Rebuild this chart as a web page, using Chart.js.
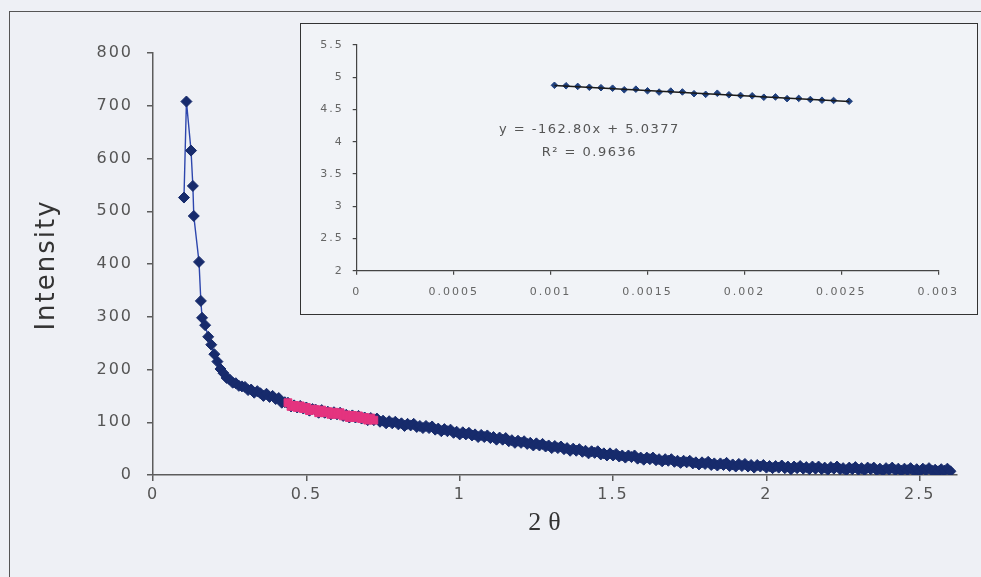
<!DOCTYPE html>
<html>
<head>
<meta charset="utf-8">
<script src="https://cdn.jsdelivr.net/npm/chart.js@4.4.1/dist/chart.umd.min.js"></script>
<style>
  html, body { margin: 0; padding: 0; background: #eef0f5; }
  #wrap { position: relative; width: 981px; height: 577px; overflow: hidden; }
  #frame { position: absolute; left: 9px; top: 11px; width: 1000px; height: 600px;
           border-left: 1.5px solid #555; border-top: 1.5px solid #555; }
  #mainChart { position: absolute; left: 0; top: 0; }
  #insetBox { position: absolute; left: 300px; top: 23px; width: 676px; height: 290px;
              border: 1.5px solid #333; background: #f1f3f7; }
  #insetChart { position: absolute; left: 300px; top: 23px; }
</style>
</head>
<body>
<div id="wrap">
  <div id="frame"></div>
  <canvas id="mainChart" width="981" height="577"></canvas>
  <div id="insetBox"></div>
  <canvas id="insetChart" width="678" height="292"></canvas>
</div>
<script>
// Scattering profile: intensity versus 2θ
const twoTheta = [
  0.101, 0.109, 0.124, 0.130, 0.133, 0.150, 0.156,
  0.16, 0.17, 0.18, 0.19, 0.20, 0.21, 0.22, 0.23, 0.24, 0.25, 0.26, 0.27, 0.28, 0.29,
  0.30, 0.31, 0.32, 0.33, 0.34, 0.35, 0.36, 0.37, 0.38, 0.39,
  0.40, 0.41, 0.42, 0.43, 0.44, 0.45, 0.46, 0.47, 0.48, 0.49,
  0.50, 0.51, 0.52, 0.53, 0.54, 0.55, 0.56, 0.57, 0.58, 0.59,
  0.60, 0.61, 0.62, 0.63, 0.64, 0.65, 0.66, 0.67, 0.68, 0.69,
  0.70, 0.71, 0.72, 0.73, 0.74, 0.75, 0.76, 0.77, 0.78, 0.79,
  0.80, 0.81, 0.82, 0.83, 0.84, 0.85, 0.86, 0.87, 0.88, 0.89,
  0.90, 0.91, 0.92, 0.93, 0.94, 0.95, 0.96, 0.97, 0.98, 0.99,
  1.00, 1.01, 1.02, 1.03, 1.04, 1.05, 1.06, 1.07, 1.08, 1.09,
  1.10, 1.11, 1.12, 1.13, 1.14, 1.15, 1.16, 1.17, 1.18, 1.19,
  1.20, 1.21, 1.22, 1.23, 1.24, 1.25, 1.26, 1.27, 1.28, 1.29,
  1.30, 1.31, 1.32, 1.33, 1.34, 1.35, 1.36, 1.37, 1.38, 1.39,
  1.40, 1.41, 1.42, 1.43, 1.44, 1.45, 1.46, 1.47, 1.48, 1.49,
  1.50, 1.51, 1.52, 1.53, 1.54, 1.55, 1.56, 1.57, 1.58, 1.59,
  1.60, 1.61, 1.62, 1.63, 1.64, 1.65, 1.66, 1.67, 1.68, 1.69,
  1.70, 1.71, 1.72, 1.73, 1.74, 1.75, 1.76, 1.77, 1.78, 1.79,
  1.80, 1.81, 1.82, 1.83, 1.84, 1.85, 1.86, 1.87, 1.88, 1.89,
  1.90, 1.91, 1.92, 1.93, 1.94, 1.95, 1.96, 1.97, 1.98, 1.99,
  2.00, 2.01, 2.02, 2.03, 2.04, 2.05, 2.06, 2.07, 2.08, 2.09,
  2.10, 2.11, 2.12, 2.13, 2.14, 2.15, 2.16, 2.17, 2.18, 2.19,
  2.20, 2.21, 2.22, 2.23, 2.24, 2.25, 2.26, 2.27, 2.28, 2.29,
  2.30, 2.31, 2.32, 2.33, 2.34, 2.35, 2.36, 2.37, 2.38, 2.39,
  2.40, 2.41, 2.42, 2.43, 2.44, 2.45, 2.46, 2.47, 2.48, 2.49,
  2.50, 2.51, 2.52, 2.53, 2.54, 2.55, 2.56, 2.57, 2.58, 2.59, 2.60
];
const intensity = [
  526, 708, 615, 548, 491, 404, 330,
  298, 284, 262, 247, 229, 215, 201, 193, 184, 181, 175, 174, 169, 168,
  167, 161, 162, 156, 159, 155, 150, 154, 148, 150,
  144, 146, 137, 138, 137, 130, 132, 128, 131, 126,
  128, 122, 125, 124, 118, 123, 118, 120, 115, 119,
  115, 118, 112, 114, 109, 113, 109, 112, 107, 109,
  104, 108, 104, 107, 101, 103, 98, 102, 98, 101,
  96, 98, 93, 97, 94, 97, 91, 93, 89, 93,
  89, 92, 86, 88, 83, 87, 83, 86, 80, 82,
  77, 81, 77, 80, 75, 77, 72, 76, 72, 75,
  70, 72, 67, 71, 67, 70, 64, 66, 61, 65,
  61, 64, 59, 61, 56, 60, 56, 59, 54, 56,
  51, 55, 51, 54, 49, 51, 46, 50, 46, 49,
  44, 46, 41, 45, 42, 45, 39, 41, 37, 41,
  37, 40, 35, 37, 33, 37, 34, 37, 31, 33,
  29, 33, 30, 33, 28, 30, 26, 30, 27, 30,
  25, 27, 23, 27, 24, 27, 22, 24, 20, 24,
  21, 25, 19, 22, 18, 22, 19, 23, 17, 20,
  16, 21, 17, 21, 16, 19, 14, 19, 16, 19,
  14, 17, 13, 17, 14, 18, 13, 16, 11, 16,
  13, 17, 12, 15, 11, 16, 12, 16, 11, 14,
  10, 15, 12, 16, 11, 13, 9, 14, 11, 15,
  10, 13, 9, 14, 11, 14, 9, 12, 8, 13,
  10, 14, 9, 12, 8, 12, 9, 13, 8, 11,
  7, 12, 9, 13, 8, 10, 7, 11, 8, 12, 7
];

// Points used for the linear fit (highlighted)
const fitTheta = [0.44, 0.45, 0.46, 0.47, 0.48, 0.49, 0.50, 0.51, 0.52, 0.53, 0.54, 0.55, 0.56, 0.57, 0.58,
                  0.59, 0.60, 0.61, 0.62, 0.63, 0.64, 0.65, 0.66, 0.67, 0.68, 0.69, 0.70, 0.71, 0.72];
const fitIntensity = [137, 130, 132, 128, 131, 126, 128, 122, 125, 124, 118, 123, 118, 120, 115,
                      119, 115, 118, 112, 114, 109, 113, 109, 112, 107, 109, 104, 108, 104];

const xTicks = [0, 0.5, 1, 1.5, 2, 2.5];
const xTickLabels = ['0', '0.5', '1', '1.5', '2', '2.5'];
const yTicks = [0, 100, 200, 300, 400, 500, 600, 700, 800];
const yTickLabels = ['0', '100', '200', '300', '400', '500', '600', '700', '800'];
const xTitle = '2θ';
const yTitle = 'Intensity';

// Inset: transformed fit region with its regression line
const insetX = [0.00102, 0.00108, 0.00114, 0.00120, 0.00126, 0.00132, 0.00138, 0.00144, 0.00150,
                0.00156, 0.00162, 0.00168, 0.00174, 0.00180, 0.00186, 0.00192, 0.00198, 0.00204,
                0.00210, 0.00216, 0.00222, 0.00228, 0.00234, 0.00240, 0.00246, 0.00254];
const insetY = [4.875, 4.868, 4.858, 4.845, 4.838, 4.830, 4.806, 4.815, 4.790,
                4.770, 4.785, 4.772, 4.745, 4.735, 4.752, 4.728, 4.718, 4.712,
                4.690, 4.695, 4.668, 4.672, 4.655, 4.644, 4.640, 4.628];
const fitSlope = -162.80;
const fitIntercept = 5.0377;
const fitR2 = 0.9636;
const insetXTicks = [0, 0.0005, 0.001, 0.0015, 0.002, 0.0025, 0.003];
const insetXTickLabels = ['0', '0.0005', '0.001', '0.0015', '0.002', '0.0025', '0.003'];
const insetYTicks = [2, 2.5, 3, 3.5, 4, 4.5, 5, 5.5];
const insetYTickLabels = ['2', '2.5', '3', '3.5', '4', '4.5', '5', '5.5'];

const axisGrey = '#5c5c5c';
const labelFont = { family: 'DejaVu Sans', size: 16 };

// Wider text tracking for every string drawn on a chart
const tracking = (px) => ({
  id: 'tracking',
  beforeDraw(chart) { chart.ctx.letterSpacing = px; }
});

// Axis titles for the main plot
const axisTitles = {
  id: 'axisTitles',
  afterDraw(chart) {
    const ctx = chart.ctx;
    const a = chart.chartArea;
    ctx.save();
    ctx.fillStyle = '#333';
    ctx.textAlign = 'center';
    ctx.textBaseline = 'middle';
    ctx.letterSpacing = '2px';
    ctx.font = '26px "DejaVu Sans"';
    ctx.translate(47, (a.top + a.bottom) / 2 + 1);
    ctx.rotate(-Math.PI / 2);
    ctx.fillText(yTitle, 0, 0);
    ctx.restore();
    ctx.save();
    ctx.fillStyle = '#333';
    ctx.textAlign = 'center';
    ctx.textBaseline = 'middle';
    ctx.letterSpacing = '7px';
    ctx.font = '26px "Liberation Serif"';
    ctx.fillText(xTitle, a.left + 395, a.bottom + 48);
    ctx.restore();
  }
};

new Chart(document.getElementById('mainChart'), {
  type: 'scatter',
  data: {
    datasets: [
      {
        data: fitTheta.map((x, i) => ({ x, y: fitIntensity[i] })),
        showLine: false,
        pointStyle: 'rect',
        pointRadius: 5.5,
        pointBackgroundColor: '#e4347f',
        pointBorderColor: '#e4347f',
        order: 0
      },
      {
        data: twoTheta.map((x, i) => ({ x, y: intensity[i] })),
        showLine: true,
        borderColor: '#2d46ad',
        borderWidth: 1.4,
        pointStyle: 'rectRot',
        pointRadius: 5.5,
        pointBackgroundColor: '#172b6c',
        pointBorderColor: '#172b6c',
        pointBorderWidth: 1,
        order: 1
      }
    ]
  },
  options: {
    responsive: false,
    animation: false,
    layout: { padding: { left: 0, top: 53, right: 24.4, bottom: 42 } },
    plugins: { legend: { display: false }, tooltip: { enabled: false } },
    scales: {
      x: {
        type: 'linear', min: 0, max: 2.62,
        afterBuildTicks: s => { s.ticks = xTicks.map(v => ({ value: v })); },
        afterFit: s => { s.height = 60; },
        grid: { drawOnChartArea: false, drawTicks: true, tickLength: 6, color: axisGrey, lineWidth: 1.5 },
        border: { display: true, color: axisGrey, width: 1.5 },
        ticks: { color: '#555', font: labelFont, padding: 4, maxRotation: 0,
                 callback: (v, i) => xTickLabels[i] }
      },
      y: {
        type: 'linear', min: 0, max: 800,
        afterBuildTicks: s => { s.ticks = yTicks.map(v => ({ value: v })); },
        afterFit: s => { s.width = 153; },
        grid: { drawOnChartArea: false, drawTicks: true, tickLength: 6, color: axisGrey, lineWidth: 1.5 },
        border: { display: true, color: axisGrey, width: 1.5 },
        ticks: { color: '#555', font: labelFont, padding: 14,
                 callback: (v, i) => yTickLabels[i] }
      }
    }
  },
  plugins: [tracking('2px'), axisTitles]
});

// Regression equation drawn inside the inset plot area
const equationLabel = {
  id: 'equationLabel',
  afterDatasetsDraw(chart) {
    const ctx = chart.ctx;
    const a = chart.chartArea;
    ctx.save();
    ctx.fillStyle = '#555';
    ctx.letterSpacing = '1.5px';
    ctx.font = '13px "DejaVu Sans"';
    ctx.textAlign = 'center';
    ctx.textBaseline = 'middle';
    const cx = a.left + (a.right - a.left) * 0.40;
    const sign = fitIntercept >= 0 ? '+' : '-';
    ctx.fillText('y = ' + fitSlope.toFixed(2) + 'x ' + sign + ' ' + Math.abs(fitIntercept).toFixed(4), cx, a.top + 85);
    ctx.fillText('R² = ' + fitR2.toFixed(4), cx, a.top + 108);
    ctx.restore();
  }
};

const insetFont = { family: 'DejaVu Sans', size: 11 };
const trendEnds = [insetX[0], insetX[insetX.length - 1]];

new Chart(document.getElementById('insetChart'), {
  type: 'scatter',
  data: {
    datasets: [
      {
        data: trendEnds.map(x => ({ x, y: fitIntercept + fitSlope * x })),
        showLine: true,
        borderColor: '#1a1a1a',
        borderWidth: 1.6,
        pointRadius: 0,
        order: 0
      },
      {
        data: insetX.map((x, i) => ({ x, y: insetY[i] })),
        showLine: false,
        pointStyle: 'rectRot',
        pointRadius: 3.3,
        pointBackgroundColor: '#20407e',
        pointBorderColor: '#20407e',
        order: 1
      }
    ]
  },
  options: {
    responsive: false,
    animation: false,
    layout: { padding: { left: 0, top: 22, right: 39.7, bottom: 14.3 } },
    plugins: { legend: { display: false }, tooltip: { enabled: false } },
    scales: {
      x: {
        type: 'linear', min: 0, max: 0.003,
        afterBuildTicks: s => { s.ticks = insetXTicks.map(v => ({ value: v })); },
        afterFit: s => { s.height = 30; },
        grid: { drawOnChartArea: false, drawTicks: true, tickLength: 4, color: '#444', lineWidth: 1.2 },
        border: { display: true, color: '#444', width: 1.2 },
        ticks: { color: '#666', font: insetFont, padding: 11, maxRotation: 0,
                 callback: (v, i) => insetXTickLabels[i] }
      },
      y: {
        type: 'linear', min: 2, max: 5.5,
        afterBuildTicks: s => { s.ticks = insetYTicks.map(v => ({ value: v })); },
        afterFit: s => { s.width = 56.7; },
        grid: { drawOnChartArea: false, drawTicks: true, tickLength: 4, color: '#444', lineWidth: 1.2 },
        border: { display: true, color: '#444', width: 1.2 },
        ticks: { color: '#666', font: insetFont, padding: 9,
                 callback: (v, i) => insetYTickLabels[i] }
      }
    }
  },
  plugins: [tracking('2px'), equationLabel]
});
</script>
</body>
</html>
